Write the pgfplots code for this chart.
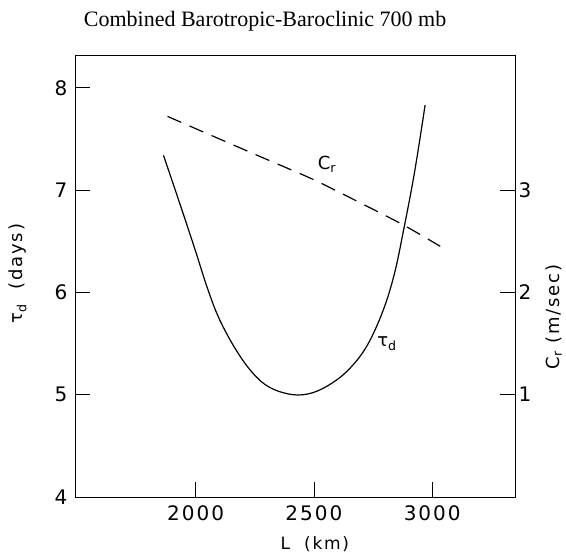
\documentclass[border=0pt]{standalone}
\usepackage{fontspec}
\setmainfont{DejaVu Sans}
\newfontfamily\titlefont{Liberation Serif}
\newfontfamily\lbl[LetterSpace=10]{DejaVu Sans}
\usepackage{pgfplots}
\pgfplotsset{compat=1.18}
\begin{document}
\begin{tikzpicture}
\begin{axis}[
  at={(0,0)}, anchor=south west,
  scale only axis, width=440pt, height=442pt,
  xmin=1490, xmax=3350, ymin=4, ymax=8.32,
  xtick={2000,2500,3000}, ytick={4,5,6,7,8},
  xtick pos=lower, ytick pos=left,
  tick align=inside, major tick length=15pt,
  axis line style={line width=0.8pt},
  tick style={line width=0.8pt, black},
  /pgf/number format/assume math mode=true,
  /pgf/number format/1000 sep={},
  tick label style={font=\lbl\fontsize{20}{22}\selectfont},
  xticklabel style={yshift=-5pt},
  yticklabel style={xshift=-4pt},
  title={\titlefont\fontsize{22}{24}\selectfont Combined Barotropic-Baroclinic 700 mb},
  title style={at={(axis description cs:0.432,1.063)}, anchor=center},
  xlabel={\lbl L\ \ (km)},
  xlabel style={at={(axis description cs:0.545,-0.106)}, anchor=center, font=\fontsize{17}{19}\selectfont},
  ylabel={\lbl τ\textsubscript{d}\ \ (days)},
  ylabel style={at={(axis description cs:-0.13,0.505)}, anchor=center, font=\fontsize{18}{20}\selectfont},
]
\addplot[black, line width=1.2pt, smooth, tension=0.6] coordinates {
  (1864,7.34) (1940,6.82) (2000,6.40) (2050,6.04) (2100,5.74) (2170,5.44)
  (2242,5.21) (2314,5.07) (2411,5.00) (2496,5.02) (2581,5.12) (2653,5.26)
  (2725,5.48) (2792,5.82) (2840,6.18) (2880,6.62) (2925,7.17) (2970,7.83)
};
\node[font=\lbl\fontsize{18}{20}\selectfont] at (axis cs:2555,7.25) {C\textsubscript{r}};
\node[font=\lbl\fontsize{18}{20}\selectfont] at (axis cs:2809,5.50) {τ\textsubscript{d}};
\end{axis}
\begin{axis}[
  at={(0,0)}, anchor=south west,
  scale only axis, width=440pt, height=442pt,
  xmin=1490, xmax=3350, ymin=0, ymax=4.32,
  axis x line=none, axis y line*=right,
  ytick={1,2,3}, ytick pos=right,
  tick align=inside, major tick length=15pt,
  axis line style={line width=0.8pt},
  tick style={line width=0.8pt, black},
  /pgf/number format/assume math mode=true,
  tick label style={font=\lbl\fontsize{20}{22}\selectfont},
  ylabel={\lbl C\textsubscript{r}\ (m/sec)},
  ylabel style={at={(axis description cs:1.088,0.407)}, anchor=center, rotate=0, font=\fontsize{18}{20}\selectfont},
]
\addplot[black, line width=1.2pt, smooth, dash pattern=on 15pt off 9pt] coordinates {
  (1881,3.72) (2100,3.50) (2300,3.30) (2500,3.10) (2700,2.87) (2877,2.66) (3034,2.45)
};
\end{axis}
\pgfresetboundingbox
\useasboundingbox (-75pt,-57pt) rectangle (491pt,497pt);
\end{tikzpicture}
\end{document}
